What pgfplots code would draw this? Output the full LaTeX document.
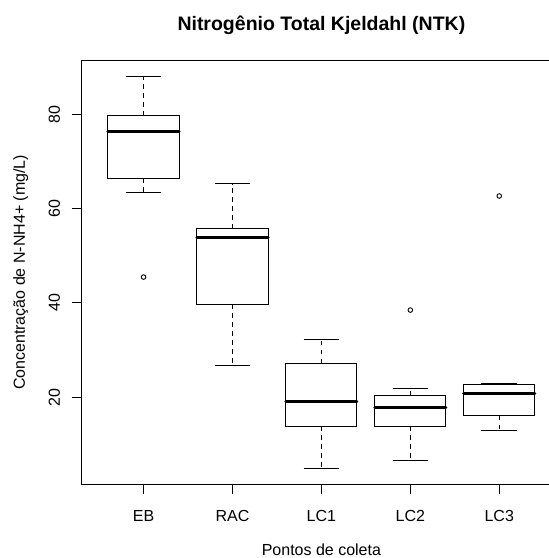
\documentclass[border=0pt]{standalone}
\usepackage{pgfplots}
\pgfplotsset{compat=1.18}
\usepgfplotslibrary{statistics}
\usepackage{fontspec}
\setmainfont{Liberation Sans}
\begin{document}
\begin{tikzpicture}
\begin{axis}[
  scale only axis,
  width=480.2pt, height=423.3pt,
  at={(0pt,0pt)}, anchor=south west,
  xmin=0.3, xmax=5.7,
  ymin=1.6, ymax=91.4,
  xtick={1,2,3,4,5},
  xticklabels={EB,RAC,LC1,LC2,LC3},
  ytick={20,40,60,80},
  tick pos=left,
  tick align=outside,
  major tick length=9.6pt,
  tick style={black, line width=1pt},
  axis line style={black, line width=1pt},
  /pgf/number format/assume math mode=true,
  tick label style={font=\fontsize{16}{19}\selectfont, inner sep=0pt},
  xticklabel style={anchor=base, yshift=-27.4pt},
  yticklabel style={xshift=-11.7pt, rotate=90, anchor=base},
  title={Nitrogênio Total Kjeldahl (NTK)},
  title style={font=\bfseries\fontsize{19.5}{23}\selectfont, at={(axis description cs:0.5,1)}, anchor=base, yshift=24pt, inner sep=0pt},
  xlabel={Pontos de coleta},
  ylabel={Concentração de N-NH4+ (mg/L)},
  every axis x label/.style={at={(axis description cs:0.5,0)}, anchor=base, yshift=-71pt, inner sep=0pt, font=\fontsize{16}{19}\selectfont},
  every axis y label/.style={at={(axis description cs:0,0.5)}, xshift=-56.5pt, rotate=90, anchor=base, inner sep=0pt, font=\fontsize{16}{19}\selectfont},
  boxplot/draw direction=y,
  boxplot/box extend=0.8,
  boxplot/whisker extend=0.4,
  boxplot/every box/.style={draw=black, fill=white, line width=1pt},
  boxplot/draw/median/.code={\draw[black, line width=3pt, line cap=round] (boxplot box cs:\pgfplotsboxplotvalue{median},0) -- (boxplot box cs:\pgfplotsboxplotvalue{median},1);},
  boxplot/draw/lower whisker/.code={%
    \draw[black, line width=1pt, dash pattern=on 4.5pt off 4.5pt] (boxplot box cs:\pgfplotsboxplotvalue{lower quartile},0.5) -- (boxplot box cs:\pgfplotsboxplotvalue{lower whisker},0.5);
    \draw[black, line width=1pt] (boxplot whisker cs:\pgfplotsboxplotvalue{lower whisker},0) -- (boxplot whisker cs:\pgfplotsboxplotvalue{lower whisker},1);},
  boxplot/draw/upper whisker/.code={%
    \draw[black, line width=1pt, dash pattern=on 4.5pt off 4.5pt] (boxplot box cs:\pgfplotsboxplotvalue{upper quartile},0.5) -- (boxplot box cs:\pgfplotsboxplotvalue{upper whisker},0.5);
    \draw[black, line width=1pt] (boxplot whisker cs:\pgfplotsboxplotvalue{upper whisker},0) -- (boxplot whisker cs:\pgfplotsboxplotvalue{upper whisker},1);},
  every axis plot/.append style={black, mark=o, mark size=2.3pt, mark options={line width=0.9pt}},
]
% EB
\addplot[boxplot prepared={draw position=1, lower whisker=63.5, lower quartile=66.5, median=76.3, upper quartile=79.7, upper whisker=88.1}] coordinates {(0,45.5)};
% RAC
\addplot[boxplot prepared={draw position=2, lower whisker=26.8, lower quartile=39.7, median=53.9, upper quartile=55.7, upper whisker=65.3}] coordinates {};
% LC1
\addplot[boxplot prepared={draw position=3, lower whisker=4.9, lower quartile=13.9, median=19.1, upper quartile=27.2, upper whisker=32.3}] coordinates {};
% LC2
\addplot[boxplot prepared={draw position=4, lower whisker=6.6, lower quartile=13.9, median=17.8, upper quartile=20.4, upper whisker=21.8}] coordinates {(0,38.5)};
% LC3
\addplot[boxplot prepared={draw position=5, lower whisker=12.95, lower quartile=16.1, median=20.9, upper quartile=22.8, upper whisker=23.0}] coordinates {(0,62.7)};
\end{axis}
\pgfresetboundingbox
\path[use as bounding box] (-81.3pt,-74pt) rectangle (467.7pt,484pt);
\end{tikzpicture}
\end{document}
